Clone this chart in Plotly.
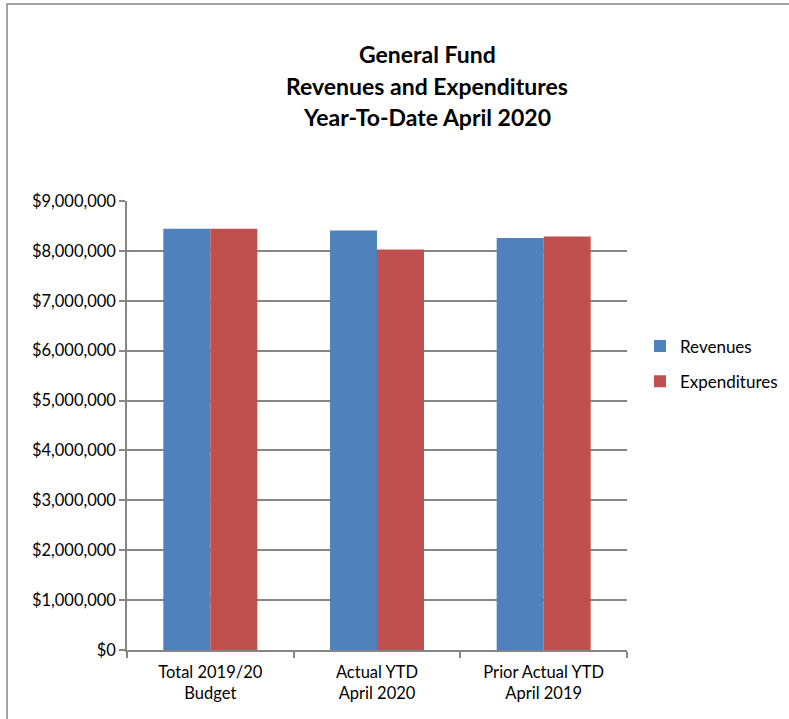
import plotly.graph_objects as go

categories = ["Total 2019/20<br>Budget", "Actual YTD<br>April 2020", "Prior Actual YTD<br>April 2019"]
revenues = [8445000, 8410000, 8260000]
expenditures = [8445000, 8030000, 8290000]
title_lines = ["General Fund", "Revenues and Expenditures", "Year-To-Date April 2020"]

FONT = "Lato"
GRID = "#868686"

fig = go.Figure()
fig.add_trace(go.Bar(name="Revenues", x=categories, y=revenues, marker_color="#4F81BD",
                     marker_line_width=0, legendgroup="a"))
fig.add_trace(go.Bar(name="Expenditures", x=categories, y=expenditures, marker_color="#C0504D",
                     marker_line_width=0, legendgroup="b"))

W, H = 789, 719
L, R, T, B = 127, 627, 201, 650
fig.update_layout(
    width=W, height=H,
    margin=dict(l=L, r=W - R, t=T, b=H - B, autoexpand=False),
    paper_bgcolor="white", plot_bgcolor="white",
    barmode="group", bargap=0.436, bargroupgap=0,
    font=dict(family=FONT, size=16.5, color="#000000"),
    showlegend=True,
    legend=dict(x=(640 - L) / (R - L), xanchor="left", y=(B - 364) / (B - T), yanchor="middle",
                font=dict(size=17), tracegroupgap=10, traceorder="grouped",
                itemwidth=30, bgcolor="rgba(0,0,0,0)"),
)
fig.update_yaxes(range=[0, 9000000], dtick=1000000, tickformat="$,.0f",
                 showgrid=True, gridcolor=GRID, gridwidth=1.5,
                 showline=True, linecolor=GRID, linewidth=1.5,
                 ticks="outside", ticklen=6, tickcolor=GRID, tickwidth=1.5,
                 tickfont=dict(size=16.5), zeroline=False, fixedrange=True)
fig.update_xaxes(showline=True, linecolor=GRID, linewidth=1.5,
                 ticks="outside", tickson="boundaries", ticklen=6, tickcolor=GRID, tickwidth=1.5,
                 tickfont=dict(size=16.5), ticklabelstandoff=6, showgrid=False, fixedrange=True)

title_y = [54, 86, 117]
for txt, yy in zip(title_lines, title_y):
    fig.add_annotation(text="<b>" + txt + "</b>", xref="paper", yref="paper",
                       x=(427 - L) / (R - L), y=(B - yy) / (B - T),
                       xanchor="center", yanchor="middle", showarrow=False,
                       font=dict(family=FONT, size=23, color="#000000"))

# outer chart border
fig.add_shape(type="rect", xref="paper", yref="paper",
              x0=(7 - L) / (R - L), x1=(795 - L) / (R - L),
              y0=(B - 725) / (B - T), y1=(B - 4) / (B - T),
              line=dict(color=GRID, width=1.5), fillcolor="rgba(0,0,0,0)", layer="below")

fig.write_html("out.html", config={"displayModeBar": False},
               post_script="document.body.style.margin='0';")
